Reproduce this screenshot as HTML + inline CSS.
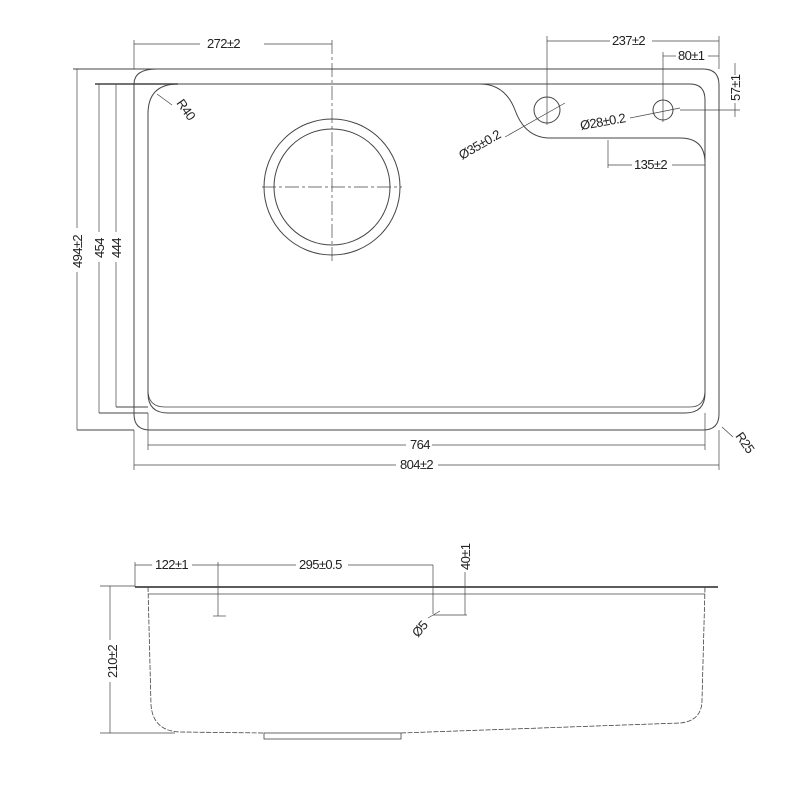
<!DOCTYPE html>
<html><head><style>body{margin:0;background:#fff}svg{display:block}text{font-family:"Liberation Sans",sans-serif;font-size:13px;fill:#222;letter-spacing:-0.6px}</style></head><body>
<svg width="800" height="800" viewBox="0 0 800 800" fill="none" stroke="#444" stroke-width="1">
<!-- top view outer -->
<path d="M157 69 H703 Q719 69 719 85 V414 Q719 430 703 430 H150 Q134 430 134 414 V84 Q134 69 157 69 Z"/>
<line x1="95" y1="84" x2="178" y2="84" stroke-width="1.4"/>
<!-- bowl -->
<path d="M178 84 Q148 84 148 114 V393 Q148 413 168 413 H685 Q705 413 705 393 V163 Q705 138 680 138 H550 Q525 138 515 110 Q505 84 480 84 H178"/>
<path d="M480 84 H690 Q705 84 705 100 V163"/>
<path d="M148 390 Q148 407 165 407 H690 Q705 407 705 390" stroke-width="0.8"/>
<line x1="116" y1="407" x2="148" y2="407"/>
<line x1="99" y1="413" x2="148" y2="413"/>
<line x1="77" y1="430" x2="134" y2="430"/>
<line x1="73" y1="69" x2="157" y2="69"/>
<!-- drain -->
<circle cx="332" cy="187" r="68"/><circle cx="332" cy="187" r="58"/>
<line x1="332" y1="40" x2="332" y2="262" stroke-dasharray="14 3 3 3" stroke-width="0.7"/>
<line x1="262" y1="187" x2="402" y2="187" stroke-dasharray="14 3 3 3" stroke-width="0.7"/>
<!-- holes -->
<circle cx="547" cy="110" r="13"/><circle cx="663" cy="110" r="10"/>
<line x1="547" y1="36" x2="547" y2="125" stroke-width="0.7"/>
<line x1="663" y1="52" x2="663" y2="122" stroke-width="0.7"/>
<line x1="719" y1="36" x2="719" y2="69" stroke-width="0.7"/>
<line x1="680" y1="110" x2="740" y2="110" stroke-width="0.7"/>
<line x1="505" y1="137" x2="565" y2="103" stroke-width="0.7"/>
<line x1="630" y1="118" x2="680" y2="108" stroke-width="0.7"/>
<!-- dims -->
<g stroke-width="0.7">
<line x1="134" y1="44" x2="200" y2="44"/><line x1="264" y1="44" x2="332" y2="44"/><line x1="134" y1="40" x2="134" y2="69"/>
<line x1="547" y1="41" x2="610" y2="41"/><line x1="652" y1="41" x2="719" y2="41"/>
<line x1="663" y1="56" x2="676" y2="56"/><line x1="708" y1="56" x2="719" y2="56"/>
<line x1="735" y1="63" x2="735" y2="75"/><line x1="735" y1="103" x2="735" y2="117"/>
<line x1="608" y1="140" x2="608" y2="168"/><line x1="608" y1="165" x2="632" y2="165"/><line x1="672" y1="165" x2="705" y2="165"/>
<line x1="77" y1="69" x2="77" y2="228"/><line x1="77" y1="272" x2="77" y2="430"/>
<line x1="99" y1="84" x2="99" y2="232"/><line x1="99" y1="262" x2="99" y2="413"/>
<line x1="116" y1="84" x2="116" y2="232"/><line x1="116" y1="262" x2="116" y2="407"/>
<line x1="148" y1="413" x2="148" y2="450"/><line x1="705" y1="413" x2="705" y2="450"/>
<line x1="134" y1="430" x2="134" y2="470"/><line x1="719" y1="430" x2="719" y2="470"/>
<line x1="148" y1="445" x2="406" y2="445"/><line x1="432" y1="445" x2="705" y2="445"/>
<line x1="134" y1="465" x2="396" y2="465"/><line x1="438" y1="465" x2="719" y2="465"/>
<line x1="157" y1="94" x2="172" y2="105"/>
<line x1="722" y1="427" x2="733" y2="437"/>
</g>
<g stroke="none">
<text x="207" y="48">272±2</text>
<text x="612" y="45">237±2</text>
<text x="678" y="60">80±1</text>
<text x="634" y="169">135±2</text>
<text x="410" y="449">764</text>
<text x="400" y="469">804±2</text>
<text transform="translate(82,268) rotate(-90)">494±2</text>
<text transform="translate(104,258) rotate(-90)">454</text>
<text transform="translate(121,258) rotate(-90)">444</text>
<text transform="translate(740,101) rotate(-90)">57±1</text>
<text transform="translate(176,103) rotate(55)">R40</text>
<text transform="translate(735,436) rotate(55)">R25</text>
<text transform="translate(462,160) rotate(-30)">Ø35±0.2</text>
<text transform="translate(581,130) rotate(-10)">Ø28±0.2</text>
</g>
<!-- side view -->
<line x1="135" y1="587" x2="718" y2="587" stroke-width="1.8"/>
<line x1="148" y1="594" x2="705" y2="594" stroke-width="0.7"/>
<path d="M148 587 L151 705 Q153 731 180 732 L264 733 M401 733 L680 723 Q702 721 702 700 L705 587" stroke-dasharray="5 1.5" stroke-width="0.8"/>
<rect x="264" y="733" width="137" height="6" stroke-width="0.8"/>
<g stroke-width="0.7">
<line x1="135" y1="562" x2="135" y2="587"/>
<line x1="135" y1="565" x2="152" y2="565"/><line x1="192" y1="565" x2="296" y2="565"/><line x1="348" y1="565" x2="433" y2="565"/>
<line x1="218" y1="562" x2="218" y2="616"/><line x1="213" y1="616" x2="226" y2="616"/>
<line x1="433" y1="565" x2="433" y2="614"/><line x1="433" y1="615" x2="467" y2="615"/>
<line x1="465" y1="572" x2="465" y2="615"/>
<line x1="428" y1="618" x2="440" y2="611"/>
<line x1="100" y1="586" x2="135" y2="586"/><line x1="100" y1="733" x2="175" y2="733"/>
<line x1="110" y1="586" x2="110" y2="640"/><line x1="110" y1="682" x2="110" y2="733"/>
</g>
<g stroke="none">
<text x="155" y="569">122±1</text>
<text x="299" y="569">295±0.5</text>
<text transform="translate(470,570) rotate(-90)">40±1</text>
<text transform="translate(117,678) rotate(-90)">210±2</text>
<text transform="translate(418,638) rotate(-50)">Ø5</text>
</g>
</svg>
</body></html>
